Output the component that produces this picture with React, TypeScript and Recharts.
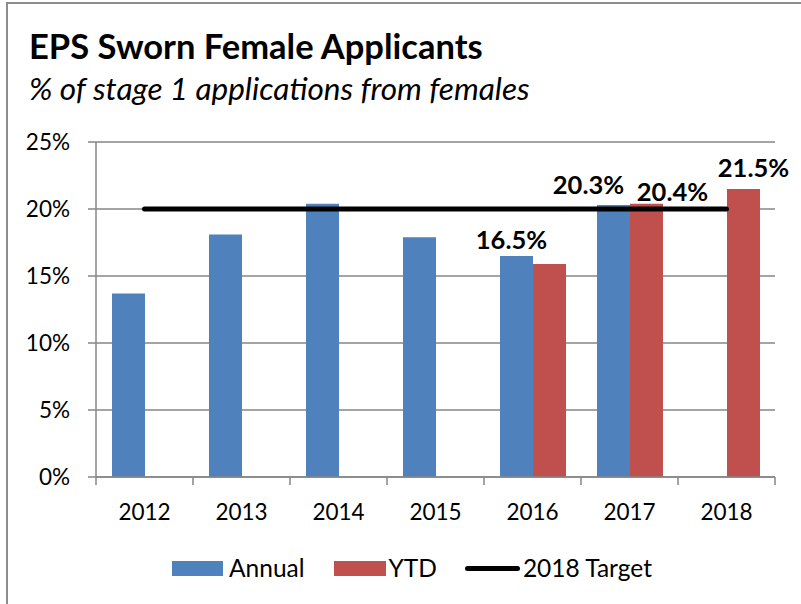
import { ComposedChart, Bar, Line, XAxis, YAxis, CartesianGrid, LabelList } from 'recharts'

const years = ['2012', '2013', '2014', '2015', '2016', '2017', '2018']
const annual = [13.7, 18.1, 20.4, 17.9, 16.5, 20.3, null]
const ytd = [null, null, null, null, 15.9, 20.4, 21.5]
const target = [20, 20, 20, 20, 20, 20, 20]
const yTicks = [0, 5, 10, 15, 20, 25]
const annualLabelYears = ['2016', '2017']
const ytdLabelYears = ['2017', '2018']

const W = 801
const H = 604
const X_AXIS_H = 60
const M = { top: 142, right: 26, bottom: 127 - X_AXIS_H, left: 0 }
const Y_AXIS_W = 96
const FONT = 'Lato, "Open Sans", sans-serif'
const BLUE = '#4F81BD'
const RED = '#C0504D'
const GRID = '#868686'

// nudges for the hand-placed data labels, [dx, dy from bar top]
const labelShift: Record<string, [number, number]> = {
  'annual-2016': [-5, -17],
  'annual-2017': [-25, -21],
  'ytd-2017': [26, -13],
  'ytd-2018': [10, -22],
}

const data = years.map((year, i) => ({
  year,
  annual: annual[i],
  ytd: ytd[i],
  target: target[i],
  annualLabel: annualLabelYears.includes(year) ? year : null,
  ytdLabel: ytdLabelYears.includes(year) ? year : null,
}))

const bandW = (W - M.left - Y_AXIS_W - M.right) / years.length

function XTick(props: any) {
  const { x, y, payload, index } = props
  const half = bandW / 2
  return (
    <g>
      <line x1={x - half} x2={x - half} y1={y - 8} y2={y} stroke={GRID} strokeWidth={1.5} />
      {index === years.length - 1 && (
        <line x1={x + half} x2={x + half} y1={y - 8} y2={y} stroke={GRID} strokeWidth={1.5} />
      )}
      <text x={x} y={y + 26} textAnchor="middle" dominantBaseline="central" fontSize={22.5} fill="#000" fontFamily={FONT}>
        {payload.value}
      </text>
    </g>
  )
}

function makeLabel(series: 'annual' | 'ytd') {
  const values = series === 'annual' ? annual : ytd
  return (props: any) => {
    const { x, y, width, value } = props
    if (value == null) return null
    const v = values[years.indexOf(value)]
    if (v == null) return null
    const [dx, dy] = labelShift[`${series}-${value}`] ?? [0, -15]
    return (
      <text
        x={x + width / 2 + dx}
        y={y + dy}
        textAnchor="middle"
        dominantBaseline="central"
        fontSize={25.5}
        fontWeight={700}
        fontFamily={FONT}
        fill="#000"
      >
        {`${v.toFixed(1)}%`}
      </text>
    )
  }
}

function LegendBox() {
  const txt = { fontSize: 24.5, fontFamily: FONT, color: '#000', lineHeight: '28px' }
  return (
    <div style={{ display: 'flex', alignItems: 'center', position: 'absolute', left: 172, top: 554 }}>
      <span style={{ width: 51, height: 15, background: BLUE, display: 'inline-block' }} />
      <span style={{ ...txt, marginLeft: 6 }}>Annual</span>
      <span style={{ width: 52, height: 15, background: RED, display: 'inline-block', marginLeft: 29 }} />
      <span style={{ ...txt, marginLeft: 3 }}>YTD</span>
      <span style={{ width: 55, height: 5, background: '#000', borderRadius: 3, display: 'inline-block', marginLeft: 28 }} />
      <span style={{ ...txt, marginLeft: 3 }}>2018 Target</span>
    </div>
  )
}

export default function App() {
  return (
    <div style={{ position: 'absolute', left: 0, top: 0, width: W, height: H, overflow: 'hidden', background: '#fff' }}>
      <div style={{ position: 'absolute', left: 6, top: 2, width: W + 10, height: H + 10, border: '2px solid #8c8c8c', boxSizing: 'border-box' }} />
      <div style={{ position: 'absolute', left: 29, top: 25, fontFamily: FONT, fontWeight: 700, fontSize: 34.5, lineHeight: '42px', color: '#000' }}>
        EPS Sworn Female Applicants
      </div>
      <div style={{ position: 'absolute', left: 29, top: 69, fontFamily: FONT, fontStyle: 'italic', fontSize: 31.5, lineHeight: '38px', color: '#000' }}>
        % of stage 1 applications from females
      </div>
      <div style={{ position: 'absolute', left: 0, top: 0 }}>
        <ComposedChart width={W} height={H} data={data} margin={M} barGap={0} barSize={33}>
          <CartesianGrid vertical={false} stroke={GRID} strokeWidth={1.5} />
          <XAxis
            dataKey="year"
            tickLine={false}
            axisLine={{ stroke: GRID, strokeWidth: 1.5 }}
            tick={<XTick />}
            height={X_AXIS_H}
            interval={0}
          />
          <YAxis
            width={Y_AXIS_W}
            domain={[0, 25]}
            ticks={yTicks}
            tickFormatter={(v: number) => `${v}%`}
            tickSize={8}
            tickMargin={18}
            tickLine={{ stroke: GRID, strokeWidth: 1.5 }}
            axisLine={{ stroke: GRID, strokeWidth: 1.5 }}
            tick={{ fontSize: 22.5, fill: '#000', fontFamily: FONT }}
          />
          <Bar dataKey="annual" name="Annual" fill={BLUE} isAnimationActive={false}>
            <LabelList dataKey="annualLabel" content={makeLabel('annual')} />
          </Bar>
          <Bar dataKey="ytd" name="YTD" fill={RED} isAnimationActive={false}>
            <LabelList dataKey="ytdLabel" content={makeLabel('ytd')} />
          </Bar>
          <Line
            dataKey="target"
            name="2018 Target"
            stroke="#000"
            strokeWidth={5}
            strokeLinecap="round"
            dot={false}
            activeDot={false}
            isAnimationActive={false}
          />
        </ComposedChart>
      </div>
      <LegendBox />
    </div>
  )
}
